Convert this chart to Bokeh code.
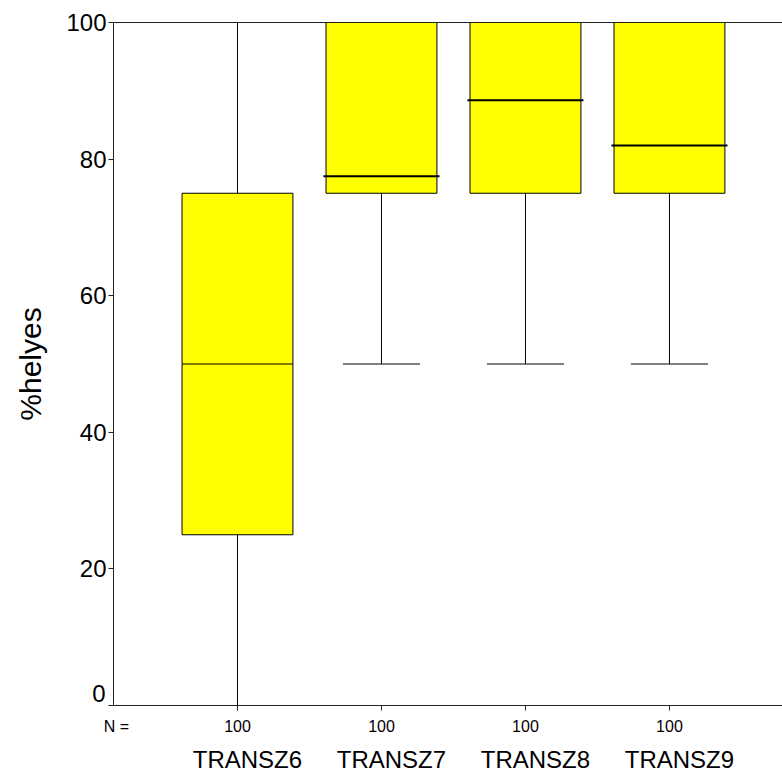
from bokeh.plotting import figure
from bokeh.models import Range1d, LinearAxis, FixedTicker
from bokeh.embed import file_html
from bokeh.resources import INLINE

categories = ["TRANSZ6", "TRANSZ7", "TRANSZ8", "TRANSZ9"]
n_counts = [100, 100, 100, 100]
low = [0, 50, 50, 50]
q1 = [25, 75, 75, 75]
median = [50, 77.5, 88.6, 82.0]
q3 = [75, 100, 100, 100]
high = [100, 100, 100, 100]
y_ticks = [0, 20, 40, 60, 80, 100]
n_label = "N ="

xs = list(range(1, len(categories) + 1))
n_label_x = 0.16
cat_label_shift = 0.069
zero_label_shift = 1.75
box_half = 0.385
cap_half = 0.268
med_half = 0.403
FONT = "Liberation Sans"

p = figure(frame_width=669, frame_height=683, output_backend="svg", toolbar_location=None,
           x_range=Range1d(0.139, 4.785), y_range=Range1d(0, 100),
           min_border_left=113, min_border_top=22, min_border_right=0, min_border_bottom=10,
           x_axis_location=None, y_axis_location=None)
p.grid.visible = False
p.outline_line_color = None
p.background_fill_color = "white"
p.border_fill_color = "white"

# boxes
p.quad(left=[x - box_half for x in xs], right=[x + box_half for x in xs], bottom=q1, top=q3,
       fill_color="#FFFF00", line_color="black", line_width=1)
# whiskers
p.segment(x0=xs, y0=q3, x1=xs, y1=high, line_color="black", line_width=1)
p.segment(x0=xs, y0=low, x1=xs, y1=q1, line_color="black", line_width=1)
# caps
p.segment(x0=[x - cap_half for x in xs], y0=high, x1=[x + cap_half for x in xs], y1=high,
          line_color="black", line_width=1)
p.segment(x0=[x - cap_half for x in xs], y0=low, x1=[x + cap_half for x in xs], y1=low,
          line_color="black", line_width=1)
# medians
p.segment(x0=[xs[0] - box_half], y0=median[:1], x1=[xs[0] + box_half], y1=median[:1],
          line_color="black", line_width=1)
p.segment(x0=[x - med_half for x in xs[1:]], y0=median[1:], x1=[x + med_half for x in xs[1:]],
          y1=median[1:], line_color="black", line_width=2)

# left axis
yax = LinearAxis(ticker=FixedTicker(ticks=y_ticks), axis_label="%helyes")
yax.major_label_overrides = {y_ticks[0]: ""}
yax.axis_line_color = "#222222"
yax.major_tick_line_color = "#222222"
yax.major_tick_out = 5
yax.major_tick_in = 0
yax.minor_tick_line_color = None
yax.major_label_text_font = FONT
yax.major_label_text_font_size = "24px"
yax.major_label_text_color = "black"
yax.major_label_standoff = 2
yax.axis_label_text_font = FONT
yax.axis_label_text_font_size = "30px"
yax.axis_label_text_font_style = "normal"
yax.axis_label_text_color = "black"
yax.axis_label_standoff = 16
p.add_layout(yax, "left")

# the "0" label sits a little above its tick
zax = LinearAxis(ticker=FixedTicker(ticks=[y_ticks[0] + zero_label_shift]))
zax.major_label_overrides = {y_ticks[0] + zero_label_shift: str(y_ticks[0])}
zax.axis_line_color = None
zax.major_tick_line_color = None
zax.minor_tick_line_color = None
zax.major_label_text_font = FONT
zax.major_label_text_font_size = "24px"
zax.major_label_text_color = "black"
zax.major_label_standoff = -100
p.add_layout(zax, "left")

# top line
tax = LinearAxis(ticker=FixedTicker(ticks=[]))
tax.axis_line_color = "#222222"
tax.major_tick_line_color = None
tax.minor_tick_line_color = None
tax.major_label_text_font_size = "0px"
p.add_layout(tax, "above")

# bottom axis: line, ticks and N values
bax = LinearAxis(ticker=FixedTicker(ticks=xs))
bax.major_label_overrides = {x: str(v) for x, v in zip(xs, n_counts)}
bax.axis_line_color = "#222222"
bax.major_tick_line_color = "#222222"
bax.major_tick_out = 5
bax.major_tick_in = 0
bax.minor_tick_line_color = None
bax.major_label_text_font = FONT
bax.major_label_text_font_size = "16px"
bax.major_label_text_color = "black"
bax.major_label_standoff = 9
p.add_layout(bax, "below")

# "N =" pulled up into the same row
nax = LinearAxis(ticker=FixedTicker(ticks=[n_label_x]))
nax.major_label_overrides = {n_label_x: n_label}
nax.axis_line_color = None
nax.major_tick_line_color = None
nax.minor_tick_line_color = None
nax.major_label_text_font = FONT
nax.major_label_text_font_size = "16px"
nax.major_label_text_color = "black"
nax.major_label_standoff = -23
p.add_layout(nax, "below")

# category axis
cat_pos = [x + cat_label_shift for x in xs]
cax = LinearAxis(ticker=FixedTicker(ticks=cat_pos))
cax.major_label_overrides = {x: c for x, c in zip(cat_pos, categories)}
cax.axis_line_color = None
cax.major_tick_line_color = None
cax.minor_tick_line_color = None
cax.major_label_text_font = FONT
cax.major_label_text_font_size = "24px"
cax.major_label_text_color = "black"
cax.major_label_standoff = 2
p.add_layout(cax, "below")

open("out.html", "w").write(file_html(p, INLINE))
